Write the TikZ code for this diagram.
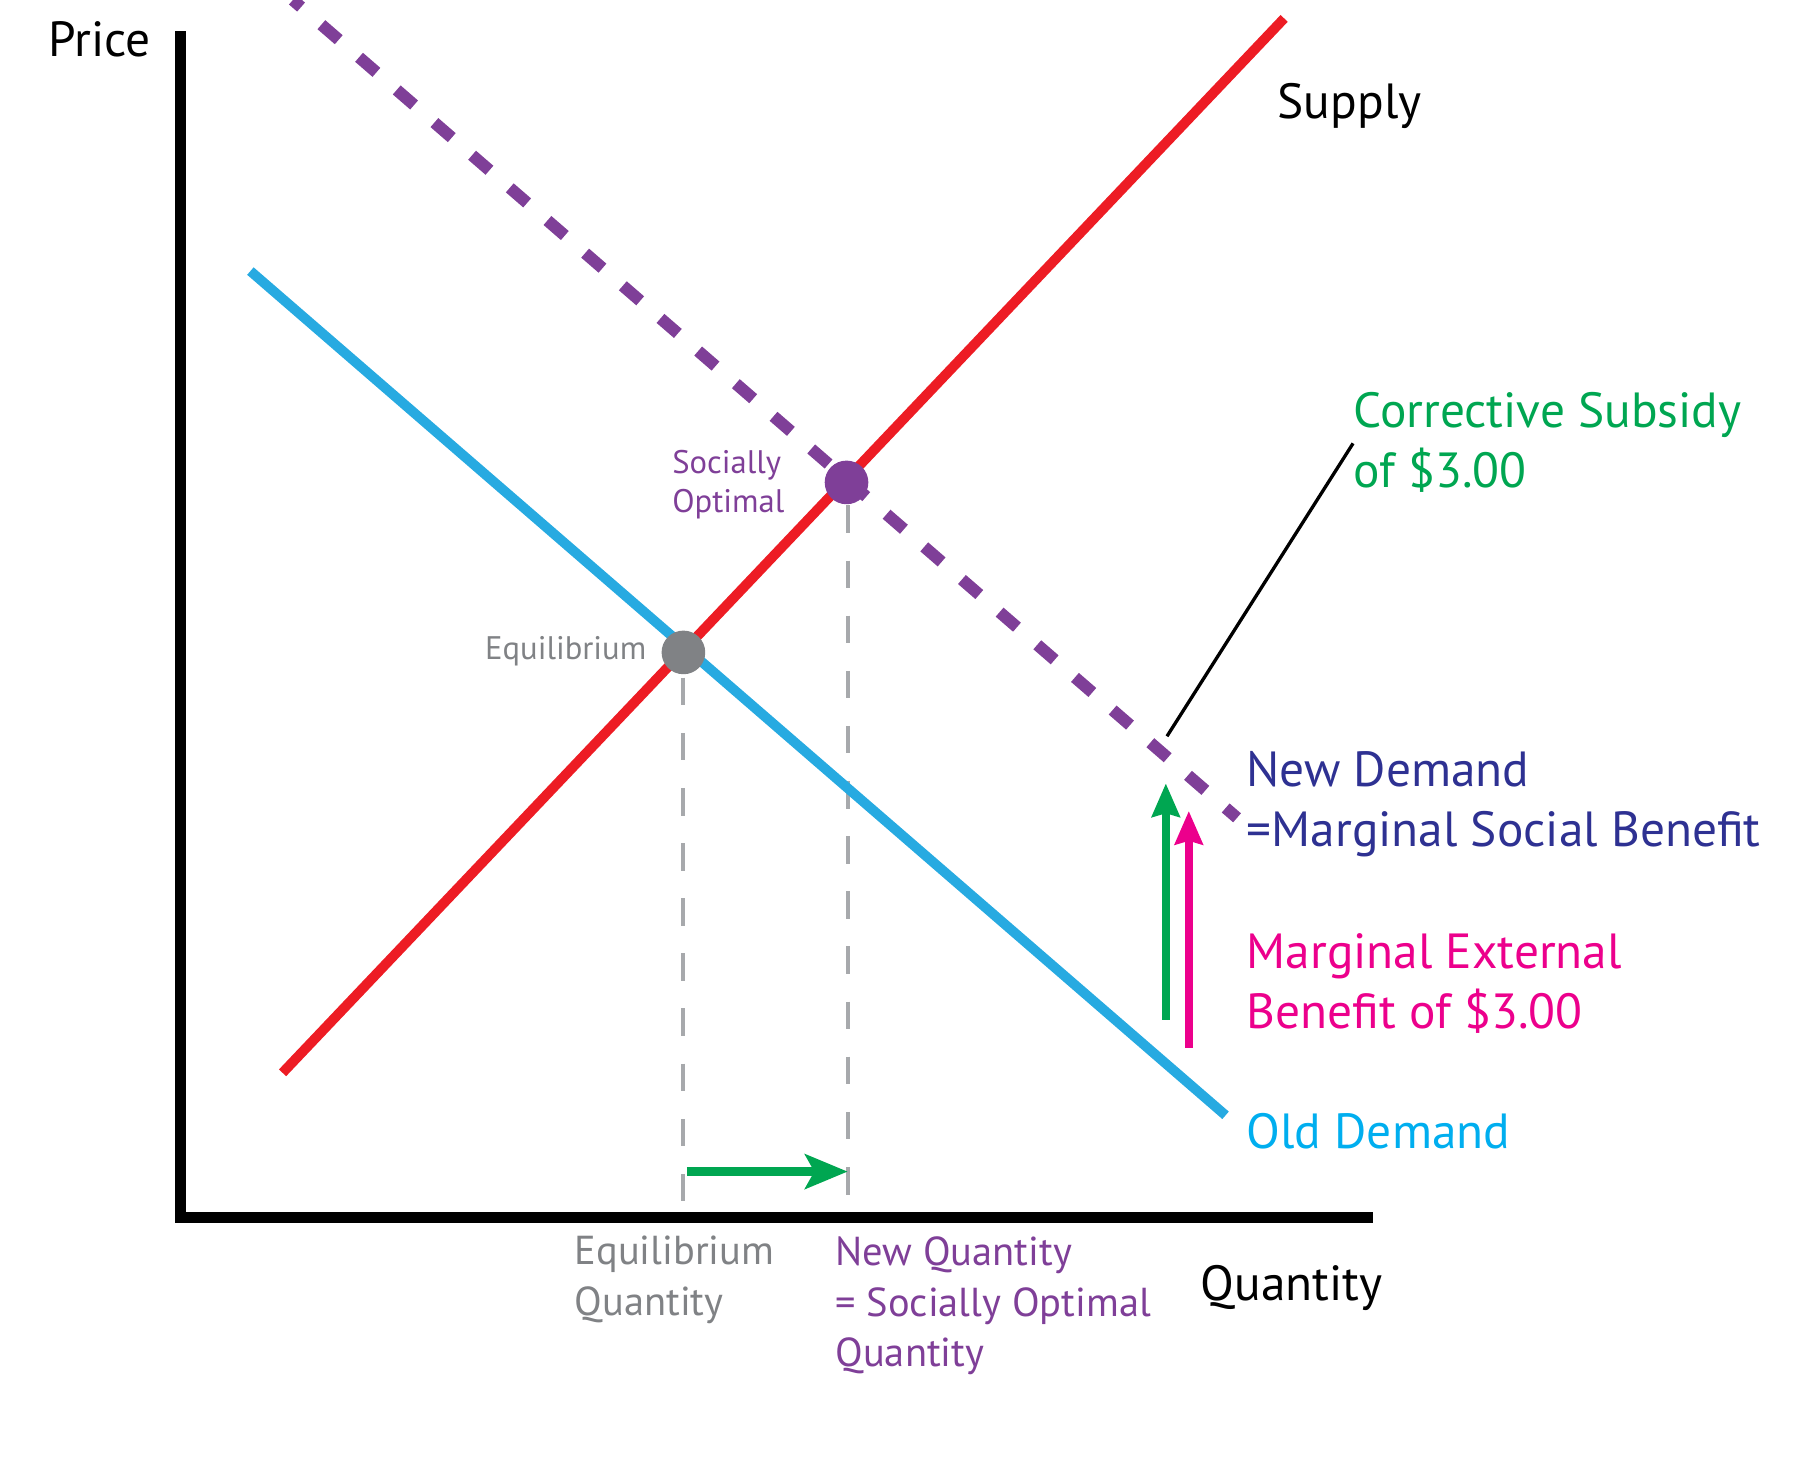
\documentclass[tikz,border=0pt]{standalone}
\usepackage{fontspec}
\setmainfont{PT Sans}
\usetikzlibrary{arrows.meta}

\definecolor{supplyred}{HTML}{ED1C24}
\definecolor{olddemand}{HTML}{27AAE1}
\definecolor{oldtext}{HTML}{00AEEF}
\definecolor{msbpurple}{HTML}{7F3F98}
\definecolor{msbnavy}{HTML}{2E3192}
\definecolor{mebpink}{HTML}{EC008C}
\definecolor{subgreen}{HTML}{00A651}
\definecolor{eqgray}{HTML}{808285}
\definecolor{dropgray}{HTML}{A7A9AC}

\tikzset{
  curve/.style={line width=4.3pt},
  droplines/.style={dropgray, line width=1.75pt, dash pattern=on 12pt off 12pt},
  bigtext/.style={anchor=base west, align=left, font=\fontsize{21.5}{26}\selectfont},
  midtext/.style={anchor=base west, align=left, font=\fontsize{17.6}{22}\selectfont},
  smalltext/.style={anchor=base west, align=left, font=\fontsize{14.2}{17}\selectfont},
  dot/.style={circle, minimum size=19pt},
  uparrow/.style={line width=3.5pt, -{Stealth[length=14.5pt, width=12pt, inset=1.5pt]}}
}

\begin{document}
\begin{tikzpicture}[x=0.5pt, y=-0.5pt, every node/.style={inner sep=0pt}]

\useasboundingbox (0,0) rectangle (1568,1281);

\draw (157, 27) coordinate (ytop);
\draw (157, 1060) coordinate (origin);
\draw (1195, 1060) coordinate (xend);

\draw (246, 934) coordinate (s1);
\draw (1118, 16) coordinate (s2);

\draw (218, 236) coordinate (d1);
\draw (1067, 971) coordinate (d2);

\draw (255, 0) coordinate (n1);
\draw (1077, 712) coordinate (n2);

\draw (738, 1060) coordinate (qnew);
\draw (595, 1060) coordinate (qeq);

\draw (598, 1020) coordinate (h1);
\draw (738, 1020) coordinate (h2);

\draw (1015, 888) coordinate (g1);
\draw (1015, 682) coordinate (g2);

\draw (1035, 912) coordinate (m1);
\draw (1035, 706) coordinate (m2);

\draw (1016, 641) coordinate (l1);
\draw (1178, 386) coordinate (l2);

\draw[line width=5pt, line join=miter] (ytop) -- (origin) -- (xend);

\draw[droplines] (595, 590) -- (qeq);
\draw[droplines] (738, 440) -- (qnew);

\draw[curve, olddemand] (d1) -- (d2);

\draw[curve, supplyred] (s1) -- (s2);

\draw[msbpurple, line width=5.2pt, dash pattern=on 10pt off 11.7pt, dash phase=5.3pt] (n1) -- (n2);

\draw (595, 568) node[dot, fill=eqgray] (eq) {};
\draw (737, 420) node[dot, fill=msbpurple] (so) {};

\draw[subgreen, line width=3.9pt, -{Stealth[length=18.5pt, width=15pt, inset=4pt]}] (h1) -- (h2);

\draw[subgreen, uparrow] (g1) -- (g2);

\draw[mebpink, uparrow] (m1) -- (m2);

\draw[line width=1.45pt] (l1) -- (l2);

\draw (42, 49) node[bigtext] (price) {Price};

\draw (1112, 103) node[bigtext] (supply) {Supply};

\draw (1045, 1132) node[bigtext] (quantity) {Quantity};

\draw (1178, 424) node[bigtext, subgreen] (subsidy) {Corrective Subsidy\\of \$3.00};

\draw (1085, 737) node[bigtext, msbnavy] (newdemand) {New Demand\\=Marginal Social Benefit};

\draw (1085, 895) node[bigtext, mebpink] (meb) {Marginal External\\Benefit of \$3.00};

\draw (1085, 1000) node[bigtext, oldtext] (olddem) {Old Demand};

\draw (500, 1145) node[midtext, eqgray] (eqq) {Equilibrium\\Quantity};

\draw (727, 1190) node[midtext, msbpurple] (newq) {New Quantity\\= Socially Optimal\\Quantity};

\draw (585, 446) node[smalltext, msbpurple] (solabel) {Socially\\Optimal};

\draw (422, 574) node[smalltext, eqgray] (eqlabel) {Equilibrium};

\end{tikzpicture}
\end{document}
